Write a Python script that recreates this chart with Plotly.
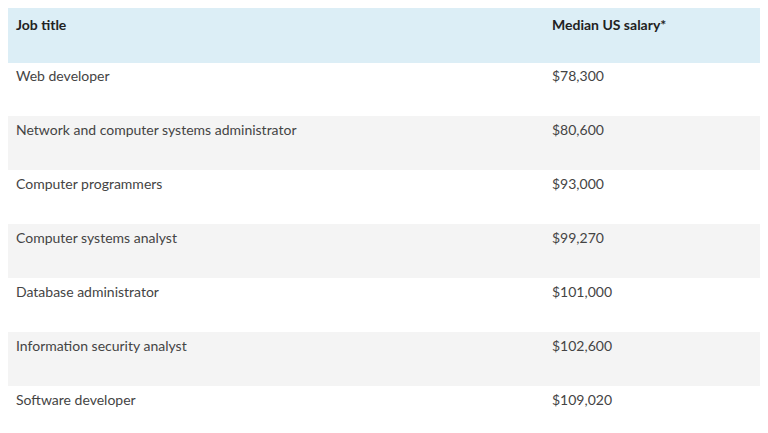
import plotly.graph_objects as go

headers = ["Job title", "Median US salary*"]
jobs = [
    "Web developer",
    "Network and computer systems administrator",
    "Computer programmers",
    "Computer systems analyst",
    "Database administrator",
    "Information security analyst",
    "Software developer",
]
salaries = ["$78,300", "$80,600", "$93,000", "$99,270", "$101,000", "$102,600", "$109,020"]

row_colors = ["#ffffff" if i % 2 == 0 else "#f4f4f4" for i in range(len(jobs))]

fig = go.Figure(go.Table(
    columnwidth=[536, 232],
    header=dict(
        values=["<b>%s</b>" % h for h in headers],
        fill_color="#dceef6",
        line_color="#dceef6",
        align="left",
        height=54,
        font=dict(family="Lato, Open Sans", size=14, color="#222222"),
    ),
    cells=dict(
        values=[jobs, salaries],
        fill_color=[row_colors, row_colors],
        line_color=[row_colors, row_colors],
        align="left",
        height=54,
        font=dict(family="Lato, Open Sans", size=14, color="#444444"),
    ),
))

fig.update_layout(
    width=768, height=433,
    margin=dict(l=0, r=0, t=0, b=0),
    paper_bgcolor="white",
)

fig.write_html("out.html")
